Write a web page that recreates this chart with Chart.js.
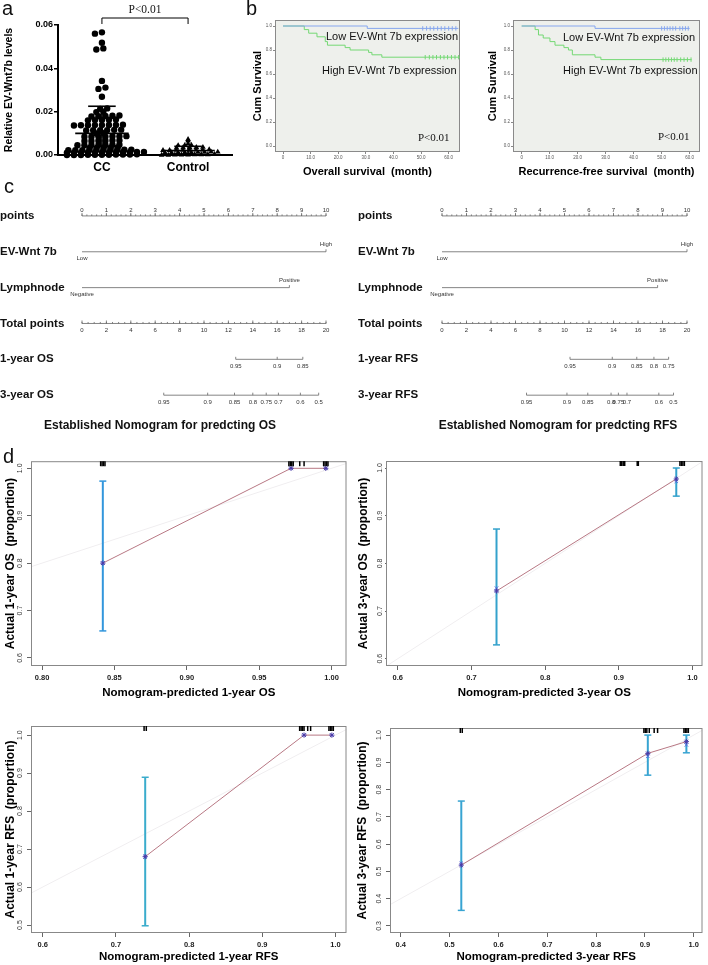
<!DOCTYPE html>
<html>
<head>
<meta charset="utf-8">
<script src="https://cdn.jsdelivr.net/npm/chart.js"></script>
<style>
html, body { margin: 0; padding: 0; background: #fff; }
body { width: 708px; height: 965px; position: relative; overflow: hidden; font-family: "Liberation Sans", Arial, sans-serif; color: #111; }
canvas { position: absolute; }
.t { position: absolute; white-space: pre; line-height: 1; transform: translateY(-50%); }
.c { transform: translate(-50%, -50%); }
.lt { position: absolute; font-size: 20px; line-height: 1; }
.serif { font-family: "Liberation Serif", "Times New Roman", serif; }
.km { font-size: 11px; }
.nt { font-size: 12px; font-weight: bold; }
</style>
</head>
<body>
<canvas id="ca" width="240" height="178" style="left:0;top:0"></canvas>
<canvas id="cb1" width="235" height="180" style="left:240px;top:0"></canvas>
<canvas id="cb2" width="233" height="180" style="left:475px;top:0"></canvas>
<canvas id="cn1" width="350" height="230" style="left:0;top:190px"></canvas>
<canvas id="cn2" width="353" height="230" style="left:355px;top:190px"></canvas>
<canvas id="cd1" width="352" height="245" style="left:0;top:455px"></canvas>
<canvas id="cd2" width="353" height="245" style="left:355px;top:455px"></canvas>
<canvas id="cd3" width="352" height="250" style="left:0;top:715px"></canvas>
<canvas id="cd4" width="353" height="250" style="left:355px;top:715px"></canvas>

<div class="lt" style="left:2px;top:-2px">a</div>
<div class="t c serif" style="left:145px;top:10px;font-size:11.5px">P&lt;0.01</div>
<div class="lt" style="left:246px;top:-2px">b</div>
<div class="t km" style="left:326px;top:36px">Low EV-Wnt 7b expression</div>
<div class="t km" style="left:322px;top:70px">High EV-Wnt 7b expression</div>
<div class="t serif" style="left:418px;top:137px;font-size:11px">P&lt;0.01</div>
<div class="t km" style="left:563px;top:37px">Low EV-Wnt 7b expression</div>
<div class="t km" style="left:563px;top:70px">High EV-Wnt 7b expression</div>
<div class="t serif" style="left:658px;top:136px;font-size:11px">P&lt;0.01</div>
<div class="lt" style="left:4px;top:176px">c</div>
<div class="t c nt" style="left:160px;top:425px">Established Nomogram for predcting OS</div>
<div class="t c nt" style="left:558px;top:425px">Established Nomogram for predcting RFS</div>
<div class="lt" style="left:3px;top:446px">d</div>

<script>
// ---------- panel a: dot plot ----------
const aCats = ['CC', 'Control'];
const ccValues = [
  0.0566, 0.0560, 0.0518, 0.0492, 0.0487, 0.0342, 0.0311, 0.0305, 0.0269,
  0.0215, 0.0213, 0.0200, 0.0198,
  0.0182, 0.0180, 0.0178, 0.0181, 0.0179,
  0.0163, 0.0161, 0.0162, 0.0160, 0.0164,
  0.0139, 0.0137, 0.0138, 0.0140, 0.0136, 0.0139, 0.0138, 0.0137,
  0.0116, 0.0114, 0.0115, 0.0117, 0.0113, 0.0115,
  0.0101, 0.0099,
  0.0086, 0.0085, 0.0084, 0.0086, 0.0085, 0.0087, 0.0084,
  0.0067, 0.0066, 0.0065, 0.0067, 0.0066, 0.0065,
  0.0047, 0.0046, 0.0045, 0.0046, 0.0047, 0.0045, 0.0046,
  0.0033, 0.0034, 0.0035, 0.0034, 0.0033,
  0.0022, 0.0023, 0.0024, 0.0023, 0.0022, 0.0025, 0.0024, 0.0023, 0.0022, 0.0024,
  0.0011, 0.0012, 0.0013, 0.0012, 0.0014, 0.0011, 0.0013, 0.0012, 0.0014, 0.0013, 0.0012, 0.0011,
  0.0000, 0.0001, 0.0002, 0.0001, 0.0000, 0.0002, 0.0001, 0.0003, 0.0000, 0.0002, 0.0001
];
const controlValues = [
  0.0072, 0.0065, 0.0052,
  0.0044, 0.0045, 0.0046,
  0.0033, 0.0034, 0.0035, 0.0036, 0.0034,
  0.0022, 0.0023, 0.0024, 0.0023, 0.0025, 0.0022, 0.0024, 0.0023,
  0.0011, 0.0012, 0.0013, 0.0012, 0.0014, 0.0011, 0.0013, 0.0012, 0.0014,
  0.0000, 0.0001, 0.0002, 0.0001, 0.0003, 0.0002, 0.0001, 0.0000, 0.0002
];
const groupMean = [0.0100, 0.0021];
const groupSD = [0.0125, 0.0019];
const aYTicks = [0, 0.02, 0.04, 0.06];

// ---------- panel b: Kaplan-Meier ----------
const kmXTicks = [0, 10, 20, 30, 40, 50, 60];
const kmYTicks = [0, 0.2, 0.4, 0.6, 0.8, 1.0];
const osLowT = [0, 30.5, 63.5];
const osLowS = [1, 0.98, 0.98];
const osLowCens = [50.6, 52, 53.3, 54.6, 56, 57.3, 58.6, 60, 61.3, 62.6];
const osHighT = [0, 7.7, 9.3, 12.3, 15.3, 16.1, 22.5, 24.3, 31, 32.2, 35.8, 64];
const osHighS = [1, 0.97, 0.94, 0.91, 0.87, 0.84, 0.82, 0.80, 0.78, 0.76, 0.74, 0.74];
const osHighCens = [51.5, 53, 54.3, 55.6, 57, 58.3, 59.6, 61, 62.3, 63.6];
const rfsLowT = [0, 26.2, 60];
const rfsLowS = [1, 0.98, 0.98];
const rfsLowCens = [50, 51, 52, 53, 54, 55, 56.5, 57.5, 58.5, 59.5];
const rfsHighT = [0, 4.8, 6.0, 7.7, 10.1, 11.9, 15.1, 16.7, 18.1, 26.2, 28.3, 60.7];
const rfsHighS = [1, 0.97, 0.925, 0.90, 0.87, 0.84, 0.82, 0.80, 0.76, 0.74, 0.72, 0.72];
const rfsHighCens = [50.5, 51.5, 52.5, 53.5, 54.5, 55.5, 56.8, 58, 59.2, 60.5];

// ---------- panel c: nomograms ----------
const nomoRowsOS = ['points', 'EV-Wnt 7b', 'Lymphnode', 'Total points', '1-year OS', '3-year OS'];
const nomoRowsRFS = ['points', 'EV-Wnt 7b', 'Lymphnode', 'Total points', '1-year RFS', '3-year RFS'];
const pointsTicks = [0, 1, 2, 3, 4, 5, 6, 7, 8, 9, 10];
const totalTicks = [0, 2, 4, 6, 8, 10, 12, 14, 16, 18, 20];
const wntLevels = ['Low', 'High'];
const wntPoints = [0, 10];
const lymphLevels = ['Negative', 'Positive'];
const lymphPointsOS = [0, 8.5];
const lymphPointsRFS = [0, 8.8];
const os1Prob = [0.95, 0.9, 0.85];
const os1Total = [12.6, 16.0, 18.1];
const os3Prob = [0.95, 0.9, 0.85, 0.8, 0.75, 0.7, 0.6, 0.5];
const os3Total = [6.7, 10.3, 12.5, 14.0, 15.1, 16.1, 17.9, 19.4];
const rfs1Prob = [0.95, 0.9, 0.85, 0.8, 0.75];
const rfs1Total = [10.45, 13.9, 15.9, 17.3, 18.5];
const rfs3Prob = [0.95, 0.9, 0.85, 0.8, 0.75, 0.7, 0.6, 0.5];
const rfs3Total = [6.9, 10.2, 11.9, 13.8, 14.4, 15.1, 17.7, 18.9];

// ---------- panel d: calibration ----------
const idealLine = [0, 1.2];
const calOS1Pred = [0.842, 0.972, 0.996];
const calOS1Obs = [0.800, 1.000, 1.000];
const calOS1Adj = [0.800, 1.000, 1.000];
const calOS1Lo = [0.657, null, null];
const calOS1Hi = [0.973, null, null];
const calOS1Rug = [0.8405, 0.8415, 0.8425, 0.8435, 0.9705, 0.9715, 0.9725, 0.9735, 0.978, 0.981, 0.9945, 0.9955, 0.9965, 0.9975];
const calOS3Pred = [0.734, 0.978];
const calOS3Obs = [0.742, 0.977];
const calOS3Adj = [0.748, 0.972];
const calOS3Lo = [0.629, 0.941];
const calOS3Hi = [0.872, 1.000];
const calOS3Rug = [0.902, 0.904, 0.906, 0.908, 0.925, 0.9265, 0.983, 0.985, 0.987, 0.989];
const calRFS1Pred = [0.740, 0.957, 0.995];
const calRFS1Obs = [0.680, 1.000, 1.000];
const calRFS1Adj = [0.680, 1.000, 1.000];
const calRFS1Lo = [0.498, null, null];
const calRFS1Hi = [0.889, null, null];
const calRFS1Rug = [0.7385, 0.7415, 0.951, 0.953, 0.955, 0.957, 0.962, 0.966, 0.991, 0.993, 0.995, 0.997];
const calRFS3Pred = [0.524, 0.906, 0.985];
const calRFS3Obs = [0.523, 0.933, 0.976];
const calRFS3Adj = [0.530, 0.922, 0.964];
const calRFS3Lo = [0.357, 0.853, 0.935];
const calRFS3Hi = [0.758, 1.000, 1.000];
const calRFS3Rug = [0.522, 0.526, 0.898, 0.901, 0.904, 0.909, 0.919, 0.926, 0.980, 0.983, 0.986, 0.989];

const FONT = '"Liberation Sans", Arial, sans-serif';
Chart.defaults.font.family = FONT;
Chart.defaults.color = '#000';
Chart.defaults.animation = false;
Chart.defaults.responsive = false;
Chart.defaults.events = [];
Chart.defaults.plugins.legend.display = false;
Chart.defaults.plugins.tooltip.enabled = false;

const fixW = w => s => { s.width = w; };
const fixH = h => s => { s.height = h; };
const setTicks = arr => s => { s.ticks = arr.map(v => ({ value: v })); };

// ---------- a ----------
function meanSdSegs(c, m, sd) {
  const lo = Math.max(0, m - sd), hi = m + sd;
  return [
    [{ x: c - 0.31, y: m }, { x: c + 0.31, y: m }],
    [{ x: c, y: lo }, { x: c, y: hi }],
    [{ x: c - 0.16, y: hi }, { x: c + 0.16, y: hi }],
    [{ x: c - 0.16, y: lo }, { x: c + 0.16, y: lo }]
  ];
}
const aSegs = [].concat(...groupMean.map((m, i) => meanSdSegs(i + 1, m, groupSD[i])));

const bracket = {
  id: 'bracket',
  afterDraw(chart) {
    const { ctx } = chart, xs = chart.scales.x, top = chart.chartArea.top;
    const x1 = xs.getPixelForValue(1), x2 = xs.getPixelForValue(2);
    ctx.save();
    ctx.strokeStyle = '#000'; ctx.lineWidth = 1;
    ctx.beginPath();
    ctx.moveTo(x1, top - 1); ctx.lineTo(x1, top - 7); ctx.lineTo(x2, top - 7); ctx.lineTo(x2, top - 1);
    ctx.stroke();
    ctx.restore();
  }
};

const chartA = new Chart(document.getElementById('ca'), {
  type: 'scatter',
  data: {
    datasets: [
      ...aSegs.map(seg => ({ data: seg, showLine: true, borderColor: '#000', borderWidth: 1.6, pointRadius: 0 })),
      { data: ccValues.map(v => ({ x: 1, y: v })), pointStyle: 'circle', pointRadius: 3.2, backgroundColor: '#000', borderWidth: 0, clip: false },
      { data: controlValues.map(v => ({ x: 2, y: v })), pointStyle: 'triangle', pointRadius: 3.3, backgroundColor: '#000', borderWidth: 0, clip: false }
    ]
  },
  options: {
    layout: { padding: { top: 25, right: 8 } },
    scales: {
      x: {
        type: 'linear', min: 0.49, max: 2.51, afterFit: fixH(23), afterBuildTicks: setTicks([1, 2]),
        grid: { display: false, drawTicks: false }, border: { color: '#000', width: 2 },
        ticks: { padding: 5, font: { size: 12, weight: 'bold' }, callback: (v, i) => aCats[i] }
      },
      y: {
        min: 0, max: 0.06, afterFit: fixW(58), afterBuildTicks: setTicks(aYTicks),
        grid: { drawOnChartArea: false, tickLength: 4, color: '#000', lineWidth: 1.5 }, border: { color: '#000', width: 2 },
        ticks: { padding: 1, font: { size: 9, weight: 'bold' }, callback: v => v.toFixed(2) },
        title: { display: true, text: 'Relative EV-Wnt7b levels', font: { size: 10.5, weight: 'bold' }, padding: { top: 3 } }
      }
    }
  },
  plugins: [bracket]
});

// scatter-dot layout: values that fall on the same pixel row are laid side by side,
// successive rows shifted a little so the dots do not line up in columns
function dotRows(values, center, chart, gap, rowH) {
  const xs = chart.scales.x, ys = chart.scales.y;
  const cx = xs.getPixelForValue(center);
  const order = values.map((v, i) => i).sort((a, b) => values[a] - values[b]);
  const rows = [];
  order.forEach(i => {
    const py = ys.getPixelForValue(values[i]);
    const last = rows[rows.length - 1];
    if (last && Math.abs(last.y0 - py) < rowH) last.idx.push(i);
    else rows.push({ y0: py, idx: [i] });
  });
  const out = [];
  const phase = [0, 0.5, -0.3, 0.25, -0.5];
  rows.forEach((r, ri) => {
    const n = r.idx.length;
    const shift = n > 1 ? phase[ri % phase.length] * gap : 0;
    r.idx.forEach((i, j) => {
      const px = cx + shift + (j - (n - 1) / 2) * gap;
      out[i] = { x: xs.getValueForPixel(px), y: values[i] };
    });
  });
  return out;
}
const nSeg = aSegs.length;
chartA.data.datasets[nSeg].data = dotRows(ccValues, 1, chartA, 7.0, 1.5);
chartA.data.datasets[nSeg + 1].data = dotRows(controlValues, 2, chartA, 6.6, 1.5);
chartA.update('none');

// ---------- b ----------
const kmLowColor = '#86a6ee';
const kmHighColor = '#74d874';
const kmFrame = {
  id: 'kmFrame',
  beforeDatasetsDraw(chart) {
    const { ctx, chartArea: a } = chart;
    ctx.save();
    ctx.fillStyle = '#eef0ec';
    ctx.fillRect(a.left, a.top, a.right - a.left, a.bottom - a.top);
    ctx.strokeStyle = '#8a8a8a'; ctx.lineWidth = 1;
    ctx.strokeRect(a.left + 0.5, a.top + 0.5, a.right - a.left - 1, a.bottom - a.top - 1);
    ctx.restore();
  }
};
function kmChart(id, s, L) {
  const pts = (T, S) => T.map((t, i) => ({ x: t, y: S[i] }));
  const cens = (T, S) => T.map(t => ({ x: t, y: S[S.length - 1] }));
  return new Chart(document.getElementById(id), {
    type: 'scatter',
    data: {
      datasets: [
        { data: cens(s.lowCens, s.lowS), pointStyle: 'line', pointRotation: 90, pointRadius: 2.2, pointBorderColor: kmLowColor, pointBorderWidth: 1 },
        { data: cens(s.highCens, s.highS), pointStyle: 'line', pointRotation: 90, pointRadius: 2.2, pointBorderColor: kmHighColor, pointBorderWidth: 1 },
        { data: pts(s.lowT, s.lowS), showLine: true, stepped: true, borderColor: kmLowColor, borderWidth: 1, pointRadius: 0 },
        { data: pts(s.highT, s.highS), showLine: true, stepped: true, borderColor: kmHighColor, borderWidth: 1, pointRadius: 0 }
      ]
    },
    options: {
      layout: { padding: { top: 20, right: L.padR } },
      scales: {
        x: {
          min: L.xmin, max: L.xmax, afterFit: fixH(28), afterBuildTicks: setTicks(kmXTicks),
          grid: { drawOnChartArea: false, tickLength: 2, color: '#888' }, border: { display: false },
          ticks: { padding: 1, font: { size: 4.5 }, color: '#555', callback: v => v === 0 ? '0' : v.toFixed(1) },
          title: { display: true, text: s.title, font: { size: 11, weight: 'bold' }, padding: { top: 0, bottom: 1 } }
        },
        y: {
          min: -0.05, max: 1.05, afterFit: fixW(L.yW), afterBuildTicks: setTicks(kmYTicks),
          grid: { drawOnChartArea: false, tickLength: 2, color: '#888' }, border: { display: false },
          ticks: { padding: 1, font: { size: 4.5 }, color: '#555', callback: v => v.toFixed(1) },
          title: { display: true, text: 'Cum Survival', font: { size: 11, weight: 'bold' }, padding: { top: 11 } }
        }
      }
    },
    plugins: [kmFrame]
  });
}
kmChart('cb1', { lowT: osLowT, lowS: osLowS, lowCens: osLowCens, highT: osHighT, highS: osHighS, highCens: osHighCens, title: 'Overall survival  (month)' },
  { xmin: -2.9, xmax: 64.1, yW: 35, padR: 15 });
kmChart('cb2', { lowT: rfsLowT, lowS: rfsLowS, lowCens: rfsLowCens, highT: rfsHighT, highS: rfsHighS, highCens: rfsHighCens, title: 'Recurrence-free survival  (month)' },
  { xmin: -3.1, xmax: 63.7, yW: 38, padR: 8 });

// ---------- c ----------
function nomoPlugin(o) {
  return {
    id: 'nomo',
    afterDraw(chart) {
      const { ctx } = chart, xs = chart.scales.x, ys = chart.scales.y;
      const X = v => xs.getPixelForValue(v), Y = r => ys.getPixelForValue(r);
      ctx.save();
      ctx.strokeStyle = '#666'; ctx.fillStyle = '#333'; ctx.lineWidth = 0.8;
      ctx.font = '6px ' + FONT; ctx.textAlign = 'center'; ctx.textBaseline = 'middle';
      const hline = (a, b, y) => { ctx.beginPath(); ctx.moveTo(X(a), y); ctx.lineTo(X(b), y); ctx.stroke(); };
      const tick = (v, y, len) => { ctx.beginPath(); ctx.moveTo(X(v), y); ctx.lineTo(X(v), y - len); ctx.stroke(); };
      // points scale (0-10 points shown over the 0-20 total axis)
      let y = Y(0);
      hline(0, 20, y);
      for (let k = 0; k <= 50; k++) tick(k * 0.4, y, 1.5);
      pointsTicks.forEach(p => { tick(p * 2, y, 3); ctx.fillText(String(p), X(p * 2), y - 6); });
      // factor rows
      o.factors.forEach(f => {
        y = Y(f.row);
        hline(f.pts[0] * 2, f.pts[1] * 2, y);
        tick(f.pts[1] * 2, y, 2.5);
        ctx.fillText(f.levels[0], X(f.pts[0] * 2), y + 6.5);
        ctx.fillText(f.levels[1], X(f.pts[1] * 2), y - 7.5);
      });
      // total points
      y = Y(3);
      hline(0, 20, y);
      for (let k = 0; k <= 40; k++) tick(k * 0.5, y, 1.5);
      totalTicks.forEach(t => { tick(t, y, 3); ctx.fillText(String(t), X(t), y + 7); });
      // outcome rows
      o.outcomes.forEach(r => {
        y = Y(r.row);
        hline(Math.min(...r.total), Math.max(...r.total), y);
        r.total.forEach((t, i) => { tick(t, y, 2.5); ctx.fillText(String(r.prob[i]), X(t), y + 7); });
      });
      ctx.restore();
    }
  };
}
function nomoChart(id, o, L) {
  return new Chart(document.getElementById(id), {
    type: 'scatter',
    data: { datasets: [] },
    options: {
      layout: { padding: { top: 8, bottom: 5, right: L.padR, left: L.padL } },
      scales: {
        x: { display: false, min: 0, max: 20 },
        y: {
          min: -0.5, max: 5.5, reverse: true, afterFit: fixW(L.yW), afterBuildTicks: setTicks([0, 1, 2, 3, 4, 5]),
          grid: { display: false, drawTicks: false }, border: { display: false },
          ticks: { crossAlign: 'far', padding: 0, font: { size: 11.5, weight: 'bold' }, color: '#111', callback: (v, i) => o.rows[i] }
        }
      }
    },
    plugins: [nomoPlugin(o)]
  });
}
nomoChart('cn1', {
  rows: nomoRowsOS,
  factors: [{ row: 1, pts: wntPoints, levels: wntLevels }, { row: 2, pts: lymphPointsOS, levels: lymphLevels }],
  outcomes: [{ row: 4, total: os1Total, prob: os1Prob }, { row: 5, total: os3Total, prob: os3Prob }]
}, { yW: 82, padR: 24, padL: 0 });
nomoChart('cn2', {
  rows: nomoRowsRFS,
  factors: [{ row: 1, pts: wntPoints, levels: wntLevels }, { row: 2, pts: lymphPointsRFS, levels: lymphLevels }],
  outcomes: [{ row: 4, total: rfs1Total, prob: rfs1Prob }, { row: 5, total: rfs3Total, prob: rfs3Prob }]
}, { yW: 84, padR: 21, padL: 3 });

// ---------- d ----------
function calFrame(rug) {
  return {
    id: 'calFrame',
    afterDatasetsDraw(chart) {
      const { ctx, chartArea: a } = chart, xs = chart.scales.x;
      ctx.save();
      ctx.strokeStyle = '#888'; ctx.lineWidth = 1;
      ctx.strokeRect(a.left + 0.5, a.top + 0.5, a.right - a.left - 1, a.bottom - a.top - 1);
      ctx.strokeStyle = '#000'; ctx.lineWidth = 1.5;
      rug.forEach(v => {
        const x = xs.getPixelForValue(v);
        ctx.beginPath(); ctx.moveTo(x, a.top); ctx.lineTo(x, a.top + 5); ctx.stroke();
      });
      ctx.restore();
    }
  };
}
function calChart(id, d, L) {
  const ds = [
    { data: d.pred.map((p, i) => ({ x: p, y: d.obs[i] })), showLine: true, borderColor: '#b87884', borderWidth: 1, pointStyle: 'star', pointRadius: 2.6, pointBorderColor: '#4a3aa8', pointBorderWidth: 1 },
    { data: d.pred.map((p, i) => ({ x: p, y: d.adj[i] })), pointStyle: 'crossRot', pointRadius: 2.4, pointBorderColor: '#5a6ee0', pointBorderWidth: 1 }
  ];
  d.pred.forEach((p, i) => {
    if (d.lo[i] == null) return;
    ds.push({ data: [{ x: p, y: d.lo[i] }, { x: p, y: d.hi[i] }], showLine: true, borderColor: L.bar, borderWidth: 2, pointStyle: 'line', pointRadius: 3.5, pointBorderColor: L.bar, pointBorderWidth: 1.5, clip: false });
  });
  ds.push({ data: idealLine.map(v => ({ x: v, y: v })), showLine: true, borderColor: '#f0eef0', borderWidth: 1, pointRadius: 0 });
  return new Chart(document.getElementById(id), {
    type: 'scatter',
    data: { datasets: ds },
    options: {
      layout: { padding: { top: L.padT, right: L.padR } },
      scales: {
        x: {
          min: L.xmin, max: L.xmax, afterFit: fixH(L.xH), afterBuildTicks: setTicks(d.xTicks),
          grid: { drawOnChartArea: false, tickLength: 4, color: '#666' }, border: { display: false },
          ticks: { padding: 3, font: { size: 7.5, weight: 'bold' }, color: '#222', callback: v => v.toFixed(d.xDec) },
          title: { display: true, text: d.xTitle, font: { size: 11.5, weight: 'bold' }, padding: { top: 0, bottom: L.xtPad } }
        },
        y: {
          min: L.ymin, max: L.ymax, afterFit: fixW(L.yW), afterBuildTicks: setTicks(d.yTicks),
          grid: { drawOnChartArea: false, tickLength: L.ytl, color: '#666' }, border: { display: false },
          ticks: { padding: L.ytp, minRotation: 90, maxRotation: 90, crossAlign: 'center', font: { size: 7 }, color: '#333', callback: v => v.toFixed(1) },
          title: { display: true, text: d.yTitle, font: { size: 12, weight: 'bold' }, padding: { top: L.ytPad } }
        }
      }
    },
    plugins: [calFrame(d.rug)]
  });
}
calChart('cd1', {
  pred: calOS1Pred, obs: calOS1Obs, adj: calOS1Adj, lo: calOS1Lo, hi: calOS1Hi, rug: calOS1Rug,
  xTicks: [0.80, 0.85, 0.90, 0.95, 1.00], xDec: 2, yTicks: [0.6, 0.7, 0.8, 0.9, 1.0],
  xTitle: 'Nomogram-predicted 1-year OS', yTitle: 'Actual 1-year OS  (proportion)'
}, { xmin: 0.7924, xmax: 1.0103, ymin: 0.583, ymax: 1.015, padT: 6, padR: 4, yW: 31, xH: 34, xtPad: 0, ytl: 4, ytp: 2, ytPad: 3, bar: '#3296dc' });
calChart('cd2', {
  pred: calOS3Pred, obs: calOS3Obs, adj: calOS3Adj, lo: calOS3Lo, hi: calOS3Hi, rug: calOS3Rug,
  xTicks: [0.6, 0.7, 0.8, 0.9, 1.0], xDec: 1, yTicks: [0.6, 0.7, 0.8, 0.9, 1.0],
  xTitle: 'Nomogram-predicted 3-year OS', yTitle: 'Actual 3-year OS  (proportion)'
}, { xmin: 0.584, xmax: 1.0136, ymin: 0.5847, ymax: 1.0147, padT: 6, padR: 5, yW: 31, xH: 34, xtPad: 0, ytl: 1, ytp: 0, ytPad: 1, bar: '#34a2cc' });
calChart('cd3', {
  pred: calRFS1Pred, obs: calRFS1Obs, adj: calRFS1Adj, lo: calRFS1Lo, hi: calRFS1Hi, rug: calRFS1Rug,
  xTicks: [0.6, 0.7, 0.8, 0.9, 1.0], xDec: 1, yTicks: [0.5, 0.6, 0.7, 0.8, 0.9, 1.0],
  xTitle: 'Nomogram-predicted 1-year RFS', yTitle: 'Actual 1-year RFS  (proportion)'
}, { xmin: 0.584, xmax: 1.015, ymin: 0.479, ymax: 1.024, padT: 11, padR: 4, yW: 31, xH: 32, xtPad: 1, ytl: 4, ytp: 2, ytPad: 3, bar: '#3aaccc' });
calChart('cd4', {
  pred: calRFS3Pred, obs: calRFS3Obs, adj: calRFS3Adj, lo: calRFS3Lo, hi: calRFS3Hi, rug: calRFS3Rug,
  xTicks: [0.4, 0.5, 0.6, 0.7, 0.8, 0.9, 1.0], xDec: 1, yTicks: [0.3, 0.4, 0.5, 0.6, 0.7, 0.8, 0.9, 1.0],
  xTitle: 'Nomogram-predicted 3-year RFS', yTitle: 'Actual 3-year RFS  (proportion)'
}, { xmin: 0.378, xmax: 1.018, ymin: 0.274, ymax: 1.026, padT: 13, padR: 2, yW: 35, xH: 32, xtPad: 1, ytl: 4, ytp: 2, ytPad: 0, bar: '#38a4d2' });
</script>
</body>
</html>
